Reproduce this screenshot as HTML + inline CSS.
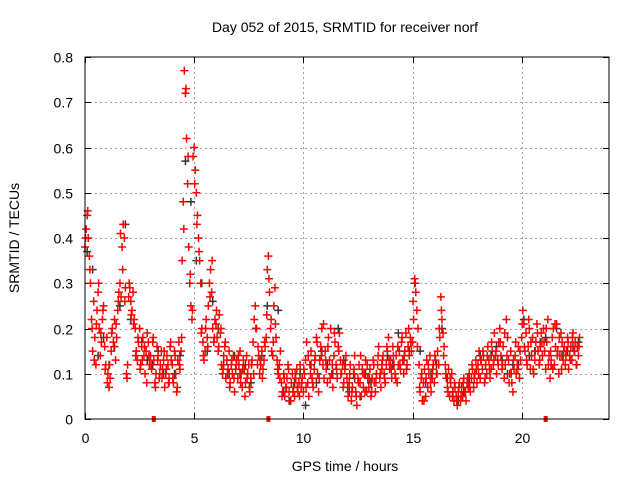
<!DOCTYPE html>
<html><head><meta charset="utf-8"><style>
html,body{margin:0;padding:0;background:#fff;}
svg{display:block;font-family:"Liberation Sans",sans-serif;}
</style></head><body>
<svg id="chart" width="640" height="480">
<rect x="0" y="0" width="640" height="480" fill="#fff"/>
<text x="345" y="32" font-size="14" text-anchor="middle">Day 052 of 2015, SRMTID for receiver norf</text>
<text x="345" y="471" font-size="14" text-anchor="middle">GPS time / hours</text>
<text transform="translate(19,238) rotate(-90)" font-size="14" text-anchor="middle">SRMTID / TECUs</text>
<g id="grid"></g>
<g id="axes"></g>
<g id="black"></g>
<g id="red"></g>
<g id="marks"></g>
<rect x="85" y="57" width="524" height="362" fill="none" stroke="#000" stroke-width="1"/>
</svg>
<script>
const xTicks=[0,5,10,15,20];
const yTicks=[0,0.1,0.2,0.3,0.4,0.5,0.6,0.7,0.8];
const yTickLabels=["0","0.1","0.2","0.3","0.4","0.5","0.6","0.7","0.8"];
const redStart=0, redStep=0.05;
const redValues=[
0.38,0.42,0.45,0.40,0.36,0.30,0.22,0.15,0.26,0.18,0.12,0.24,0.28,0.20,0.14,0.17,0.22,0.25,0.16,0.12,
0.18,0.10,0.07,0.09,0.15,0.20,0.17,0.22,0.13,0.18,0.24,0.28,0.30,0.27,0.38,0.43,0.40,0.29,0.10,0.12,
0.27,0.29,0.26,0.24,0.28,0.22,0.20,0.15,0.13,0.17,0.20,0.12,0.16,0.18,0.14,0.10,0.15,0.19,0.17,0.12,
0.14,0.11,0.17,0.13,0.08,0.10,0.16,0.14,0.09,0.12,0.15,0.11,0.13,0.07,0.10,0.14,0.12,0.09,0.16,0.13,
0.12,0.08,0.15,0.10,0.06,0.13,0.17,0.11,0.15,0.35,0.48,0.77,0.72,0.62,0.52,0.38,0.30,0.25,0.22,0.58,
0.60,0.55,0.50,0.45,0.40,0.35,0.30,0.20,0.17,0.13,0.15,0.22,0.18,0.25,0.30,0.33,0.28,0.20,0.17,0.22,
0.21,0.18,0.15,0.23,0.19,0.12,0.10,0.14,0.16,0.09,0.13,0.11,0.15,0.08,0.12,0.10,0.14,0.06,0.11,0.13,
0.09,0.12,0.15,0.10,0.07,0.13,0.11,0.08,0.14,0.10,0.12,0.06,0.09,0.13,0.17,0.22,0.25,0.20,0.12,0.14,
0.10,0.12,0.15,0.11,0.13,0.16,0.18,0.33,0.36,0.28,0.20,0.15,0.14,0.25,0.29,0.18,0.13,0.10,0.12,0.15,
0.08,0.06,0.10,0.05,0.07,0.09,0.12,0.06,0.04,0.08,0.10,0.07,0.05,0.09,0.11,0.06,0.08,0.12,0.07,0.09,
0.06,0.10,0.13,0.17,0.08,0.05,0.12,0.15,0.09,0.07,0.11,0.14,0.18,0.10,0.06,0.13,0.16,0.20,0.12,0.09,
0.15,0.11,0.08,0.18,0.13,0.20,0.10,0.07,0.14,0.17,0.12,0.09,0.16,0.19,0.13,0.10,0.12,0.08,0.11,0.14,
0.09,0.05,0.08,0.12,0.04,0.07,0.10,0.14,0.06,0.03,0.09,0.12,0.08,0.05,0.11,0.07,0.10,0.13,0.06,0.09,
0.07,0.11,0.05,0.09,0.13,0.08,0.06,0.10,0.12,0.16,0.09,0.07,0.11,0.14,0.10,0.08,0.12,0.15,0.18,0.11,
0.13,0.09,0.16,0.12,0.10,0.14,0.08,0.12,0.15,0.11,0.17,0.13,0.10,0.15,0.19,0.12,0.16,0.14,0.18,0.15,
0.17,0.22,0.31,0.28,0.24,0.20,0.12,0.06,0.09,0.04,0.08,0.11,0.05,0.13,0.07,0.10,0.14,0.06,0.09,0.12,
0.08,0.13,0.10,0.15,0.12,0.18,0.27,0.22,0.19,0.16,0.12,0.09,0.07,0.11,0.05,0.08,0.10,0.06,0.04,0.07,
0.05,0.03,0.06,0.08,0.04,0.07,0.05,0.09,0.06,0.04,0.08,0.07,0.10,0.06,0.09,0.11,0.07,0.10,0.13,0.08,
0.12,0.15,0.09,0.13,0.11,0.14,0.08,0.12,0.10,0.16,0.13,0.09,0.11,0.15,0.12,0.19,0.14,0.10,0.13,0.17,
0.20,0.14,0.11,0.16,0.09,0.12,0.22,0.18,0.13,0.10,0.15,0.08,0.06,0.11,0.14,0.10,0.12,0.16,0.09,0.13,
0.18,0.24,0.21,0.15,0.19,0.12,0.16,0.20,0.11,0.14,0.18,0.10,0.13,0.17,0.21,0.15,0.12,0.16,0.19,0.14,
0.20,0.15,0.11,0.17,0.22,0.14,0.09,0.13,0.18,0.20,0.12,0.16,0.21,0.15,0.10,0.14,0.19,0.17,0.13,0.16,
0.12,0.15,0.18,0.11,0.14,0.16,0.13,0.19,0.15,0.17,0.12,0.16,0.14,0.18];
const red2Start=0.025, red2Step=0.1;
const red2Values=[
0.40,0.46,0.33,0.20,0.13,0.21,0.30,0.19,0.24,0.11,
0.08,0.12,0.19,0.16,0.21,0.26,0.41,0.33,0.26,0.09,
0.30,0.23,0.21,0.14,0.18,0.11,0.13,0.16,0.08,0.14,
0.12,0.18,0.07,0.13,0.10,0.09,0.15,0.11,0.08,0.17,
0.09,0.14,0.07,0.12,0.18,0.42,0.73,0.58,0.32,0.24,
0.52,0.43,0.37,0.19,0.14,0.20,0.16,0.27,0.35,0.18,
0.24,0.16,0.20,0.11,0.17,0.10,0.07,0.13,0.09,0.12,
0.14,0.08,0.11,0.05,0.09,0.07,0.12,0.10,0.20,0.16,
0.13,0.09,0.17,0.23,0.31,0.22,0.17,0.21,0.11,0.09,
0.05,0.09,0.07,0.11,0.04,0.06,0.10,0.07,0.05,0.08,
0.11,0.07,0.14,0.10,0.08,0.13,0.17,0.09,0.14,0.21,
0.13,0.16,0.09,0.12,0.19,0.11,0.15,0.10,0.07,0.12,
0.07,0.10,0.06,0.11,0.05,0.08,0.14,0.10,0.06,0.12,
0.09,0.06,0.12,0.08,0.14,0.10,0.13,0.09,0.16,0.13,
0.11,0.14,0.09,0.16,0.12,0.18,0.14,0.11,0.20,0.17,
0.26,0.30,0.16,0.07,0.10,0.04,0.09,0.12,0.08,0.11,
0.14,0.10,0.20,0.24,0.14,0.10,0.06,0.09,0.05,0.08,
0.04,0.07,0.05,0.08,0.06,0.09,0.07,0.12,0.09,0.11,
0.10,0.13,0.15,0.09,0.14,0.11,0.17,0.13,0.15,0.12,
0.17,0.12,0.19,0.14,0.08,0.10,0.13,0.17,0.11,0.15,
0.21,0.16,0.13,0.22,0.17,0.11,0.15,0.19,0.13,0.17,
0.17,0.20,0.12,0.15,0.11,0.21,0.14,0.18,0.11,0.15,
0.14,0.17,0.13,0.18,0.15,0.12,0.16];
const blackStart=0.1, blackStep=0.25;
const blackValues=[
0.37,0.33,0.14,0.18, 0.12,0.16,0.25,0.43, 0.22,0.15,0.17,0.13, 0.12,0.15,0.10,0.08,
0.10,0.14,0.57,0.48, 0.35,0.30,0.15,0.26, 0.20,0.12,0.10,0.14, 0.10,0.12,0.08,0.20,
0.14,0.25,0.14,0.24, 0.06,0.04,0.08,0.10, 0.03,0.12,0.08,0.15, 0.12,0.10,0.20,0.13,
0.06,0.09,0.05,0.10, 0.08,0.10,0.12,0.14, 0.12,0.19,0.13,0.15, 0.30,0.15,0.08,0.10,
0.12,0.20,0.09,0.06, 0.04,0.06,0.08,0.10, 0.14,0.12,0.14,0.16, 0.13,0.10,0.12,0.12,
0.22,0.14,0.15,0.17, 0.18,0.12,0.20,0.14, 0.15,0.16,0.17];
const markerHours=[3.15,8.4,21.1];

const NS="http://www.w3.org/2000/svg";
const X0=85,X1=609,Y0=419,Y1=57,XMAX=24,YMAX=0.8;
const xs=h=>X0+(h/XMAX)*(X1-X0);
const ys=v=>Y0-(v/YMAX)*(Y0-Y1);
function mk(t,a,p){const e=document.createElementNS(NS,t);for(const k in a)e.setAttribute(k,a[k]);p.appendChild(e);return e;}
const grid=document.getElementById('grid'),axes=document.getElementById('axes');
xTicks.forEach(t=>{
  const x=Math.round(xs(t))+0.5;
  if(t>0){const g=mk('line',{x1:x,x2:x,y1:Y1,y2:Y0,stroke:'#a0a0a0','stroke-dasharray':'2,3'},grid);
  
  }
  mk('line',{x1:x,x2:x,y1:Y0,y2:Y0-6,stroke:'#000'},axes);
  mk('line',{x1:x,x2:x,y1:Y1,y2:Y1+6,stroke:'#000'},axes);
  const l=mk('text',{x:x,y:443,'font-size':14,'text-anchor':'middle'},axes);l.textContent=String(t);
  
  
});
yTicks.forEach((t,i)=>{
  const y=Math.round(ys(t))+0.5;
  if(t>0&&t<YMAX){const g=mk('line',{x1:X0,x2:X1,y1:y,y2:y,stroke:'#a0a0a0','stroke-dasharray':'2,3'},grid);
  
  }
  mk('line',{x1:X0,x2:X0+6,y1:y,y2:y,stroke:'#000'},axes);
  mk('line',{x1:X1,x2:X1-6,y1:y,y2:y,stroke:'#000'},axes);
  const l=mk('text',{x:73,y:y+5,'font-size':14,'text-anchor':'end'},axes);l.textContent=yTickLabels[i];
  
  
});
function plus(g,h,v,c){
  const x=xs(h),y=ys(v);
  const p=mk('path',{d:`M${x-4},${y}H${x+4}M${x},${y-4}V${y+4}`,stroke:c,'stroke-width':1.5,fill:'none'},g);
  
  
}
const bg=document.getElementById('black');
blackValues.forEach((v,i)=>plus(bg,blackStart+i*blackStep,v,'#333'));
const rg=document.getElementById('red');
redValues.forEach((v,i)=>plus(rg,redStart+i*redStep,v,'#ff0000'));
red2Values.forEach((v,i)=>plus(rg,red2Start+i*red2Step,v,'#ff0000'));
const mg=document.getElementById('marks');
markerHours.forEach(h=>{
  const r=mk('rect',{x:xs(h)-2,y:Y0-3,width:4,height:6,fill:'#ff0000'},mg);
  
  
});
</script>
</body></html>
